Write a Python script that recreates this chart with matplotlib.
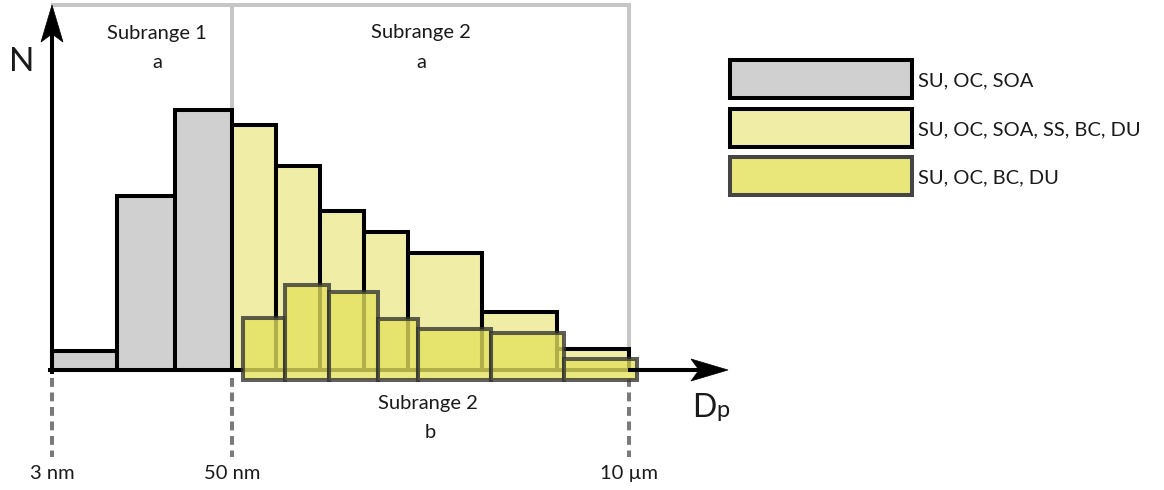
import matplotlib
matplotlib.use("Agg")
import matplotlib.pyplot as plt
import matplotlib.patches as mpatches
import numpy as np

plt.rcParams["font.family"] = ["Lato", "DejaVu Sans"]

# ---- data (x: size axis position, y: N, both in drawing units) ----
gray_edges = [52, 117, 175, 232]            # subrange 1a: 3 nm .. 50 nm
gray_heights = [19, 174, 260]
light_edges = [232, 276, 320, 364, 408, 482, 557, 629]   # subrange 2a: 50 nm .. 10 um
light_heights = [245, 204, 159, 138, 117, 58, 21]
dark_edges = [243, 285, 329, 378, 418, 491, 564, 637]    # subrange 2b (offset)
dark_heights = [62, 95, 88, 61, 51, 47, 21]
dark_bottom = -10

cut_positions = [52, 232, 629]
cut_labels = ["3 nm", "50 nm", "10 µm"]

legend_labels = ["SU, OC, SOA", "SU, OC, SOA, SS, BC, DU", "SU, OC, BC, DU"]

# ---- colours ----
C_GRAY = "#d0d0d0"
C_LIGHT = "#efeda6"
C_DARK = "#e4e25e"
C_FRAME = "#c6c6c6"
C_DASH = "#7a7a7a"
C_TEXT = "#1a1a1a"

LW = 2.9

fig = plt.figure(figsize=(11.64, 4.9), dpi=100)
ax = fig.add_axes([0, 0, 1, 1])
ax.set_xlim(0, 1164)
ax.set_ylim(-120, 370)
ax.axis("off")

# subrange frame (light gray)
ax.plot([53, 629], [365, 365], color=C_FRAME, lw=LW, zorder=1, solid_capstyle="projecting")
ax.plot([232, 232], [365, 0], color=C_FRAME, lw=LW, zorder=1)
ax.plot([629, 629], [365, 0], color=C_FRAME, lw=LW, zorder=1)

# x axis line (under the bars)
ax.plot([50, 700], [0, 0], color="black", lw=LW, zorder=1.5)

def draw_bars(edges, heights, bottom, face, edge, z, alpha=1.0):
    e = np.asarray(edges, dtype=float)
    ax.bar(e[:-1], heights, width=np.diff(e), bottom=bottom, align="edge",
           facecolor=face, edgecolor=edge, linewidth=LW, zorder=z, alpha=alpha)

draw_bars(gray_edges, gray_heights, 0, C_GRAY, "black", 2)
draw_bars(light_edges, light_heights, 0, C_LIGHT, "black", 2)
draw_bars(dark_edges, dark_heights, dark_bottom, C_DARK, "#333333", 4, alpha=0.78)

# arrows
def arrow_head(tip, direction, length=37, half=11, notch=8):
    tx, ty = tip
    dx, dy = direction
    px, py = -dy, dx
    bx, by = tx - dx * length, ty - dy * length
    pts = [(tx, ty),
           (bx + px * half, by + py * half),
           (bx + dx * notch, by + dy * notch),
           (bx - px * half, by - py * half)]
    ax.add_patch(mpatches.Polygon(pts, closed=True, facecolor="black",
                                  edgecolor="black", lw=0.5, zorder=6))

ax.plot([52, 52], [-2, 340], color="black", lw=LW, zorder=5)
arrow_head((52, 365), (0, 1))
ax.plot([630, 705], [0, 0], color="black", lw=LW, zorder=5)
arrow_head((728, 0), (1, 0))

ax.text(22, 308, "N", fontsize=24, ha="center", va="center", color=C_TEXT)
ax.text(692, -47, "D", fontsize=23, ha="left", va="baseline", color=C_TEXT)
ax.text(716, -47, "p", fontsize=17, ha="left", va="baseline", color=C_TEXT)

# subrange labels
ax.text(157, 336, "Subrange 1", fontsize=14.5, ha="center", va="center", color=C_TEXT)
ax.text(157, 307, "a", fontsize=14.5, ha="center", va="center", color=C_TEXT)
ax.text(421, 337, "Subrange 2", fontsize=14.5, ha="center", va="center", color=C_TEXT)
ax.text(421, 307, "a", fontsize=14.5, ha="center", va="center", color=C_TEXT)
ax.text(428, -33, "Subrange 2", fontsize=14.5, ha="center", va="center", color=C_TEXT)
ax.text(430, -62, "b", fontsize=14.5, ha="center", va="center", color=C_TEXT)

# size cut markers
for xp, lab in zip(cut_positions, cut_labels):
    ax.plot([xp, xp], [-8, -87], color=C_DASH, lw=LW, ls=(0, (2.2, 1.4)), zorder=1)
    ax.text(xp, -103, lab, fontsize=14.5, ha="center", va="center", color=C_TEXT)

# legend boxes
legend_faces = [C_GRAY, C_LIGHT, "#e9e67a"]
legend_edges = ["black", "black", "#454545"]
legend_tops = [60, 109, 157]
for top, face, edge, lab in zip(legend_tops, legend_faces, legend_edges, legend_labels):
    ax.add_patch(mpatches.Rectangle((730, 370 - top - 38), 182, 38, facecolor=face,
                                    edgecolor=edge, lw=LW, zorder=3))
    ax.text(918, 370 - top - 21, lab, fontsize=14.5, ha="left", va="center", color=C_TEXT)

fig.savefig("out.png", dpi=100)
